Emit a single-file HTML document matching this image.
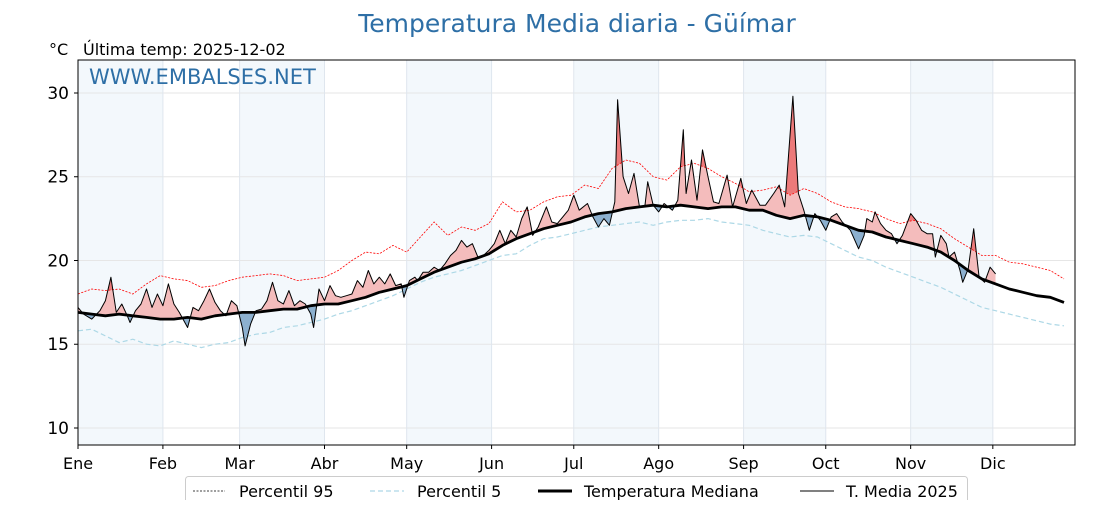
<!DOCTYPE html>
<html><head><meta charset="utf-8"><style>
body{margin:0;background:#fff;font-family:"Liberation Sans","DejaVu Sans",sans-serif;}
svg text{font-family:"DejaVu Sans","Liberation Sans",sans-serif;}
</style></head><body>
<svg id="chart" width="1120" height="500" xmlns="http://www.w3.org/2000/svg">
<text x="577" y="32" text-anchor="middle" font-size="25" fill="#2e6fa6">Temperatura Media diaria - Güímar</text>
<text x="49" y="55" font-size="16" fill="#000">°C</text>
<text x="83" y="55" font-size="16" fill="#000">Última temp: 2025-12-02</text>
<g id="bands"></g><g id="grid"></g><g id="fills"></g><g id="lines"></g>
<text x="89" y="84" font-size="21" fill="#2e6fa6">WWW.EMBALSES.NET</text>
<rect x="78" y="60" width="997" height="385" fill="none" stroke="#000" stroke-width="1"/>
<g id="axes"></g>
<g>
<rect x="185.5" y="476.5" width="782" height="30" rx="3" fill="#fff" stroke="#ccc"/>
<line x1="193" y1="491" x2="225" y2="491" stroke="#000" stroke-width="0.8" stroke-dasharray="2,1.5"/>
<text x="239" y="497" font-size="16">Percentil 95</text>
<line x1="370" y1="491" x2="404" y2="491" stroke="#add8e6" stroke-width="1.2" stroke-dasharray="5,3"/>
<text x="417" y="497" font-size="16">Percentil 5</text>
<line x1="538" y1="491" x2="572" y2="491" stroke="#000" stroke-width="3"/>
<text x="584" y="497" font-size="16">Temperatura Mediana</text>
<line x1="800" y1="491" x2="834" y2="491" stroke="#000" stroke-width="1"/>
<text x="846" y="497" font-size="16">T. Media 2025</text>
</g>
</svg>
<script>
const statDays=[0,5,10,15,20,25,30,35,40,45,50,55,60,65,70,75,80,85,90,95,100,105,110,115,120,125,130,135,140,145,150,155,160,165,170,175,180,185,190,195,200,205,210,215,220,225,230,235,240,245,250,255,260,265,270,275,280,285,290,295,300,305,310,315,320,325,330,335,340,345,350,355,360];
const median=[16.9,16.8,16.7,16.8,16.7,16.6,16.5,16.5,16.6,16.5,16.7,16.8,16.9,16.9,17.0,17.1,17.1,17.3,17.4,17.4,17.6,17.8,18.1,18.3,18.5,18.9,19.3,19.6,19.9,20.1,20.4,20.9,21.3,21.6,21.9,22.1,22.3,22.6,22.8,22.9,23.1,23.2,23.3,23.2,23.3,23.2,23.1,23.2,23.2,23.0,23.0,22.7,22.5,22.7,22.6,22.4,22.1,21.8,21.7,21.4,21.2,21.0,20.8,20.5,20.0,19.4,18.9,18.6,18.3,18.1,17.9,17.8,17.5];
const p95=[18.0,18.3,18.2,18.3,18.0,18.6,19.1,18.9,18.8,18.4,18.5,18.8,19.0,19.1,19.2,19.1,18.8,18.9,19.0,19.4,20.0,20.5,20.4,20.9,20.5,21.4,22.3,21.5,22.0,21.8,22.2,23.5,22.9,23.0,23.5,23.8,23.9,24.5,24.3,25.5,26.0,25.8,25.0,24.8,25.6,25.8,25.5,25.0,24.6,24.1,24.2,24.4,23.9,24.3,24.0,23.5,23.2,23.1,22.9,22.5,22.2,22.4,22.2,21.9,21.3,20.8,20.3,20.3,19.9,19.8,19.6,19.4,18.9];
const p5=[15.8,15.9,15.5,15.1,15.3,15.0,14.9,15.2,15.0,14.8,15.0,15.1,15.4,15.6,15.7,16.0,16.1,16.3,16.5,16.8,17.0,17.3,17.6,17.9,18.3,18.7,19.0,19.2,19.4,19.7,20.0,20.3,20.4,20.9,21.3,21.4,21.6,21.8,22.0,22.1,22.2,22.3,22.1,22.3,22.4,22.4,22.5,22.3,22.2,22.1,21.8,21.6,21.4,21.5,21.4,21.0,20.6,20.2,20.0,19.6,19.3,19.0,18.7,18.4,18.0,17.6,17.2,17.0,16.8,16.6,16.4,16.2,16.1];
const days2025=[0,2,5,8,10,12,14,16,18,19,21,23,25,27,29,31,33,35,37,40,42,44,46,48,50,52,54,56,58,60,61,63,65,67,69,71,73,75,77,79,81,83,85,86,88,90,92,94,96,98,100,102,104,106,108,110,112,114,116,118,119,121,123,124,126,128,130,132,134,136,138,140,142,144,146,148,150,152,154,156,158,160,162,164,166,168,171,173,175,177,179,181,183,186,188,190,192,194,196,197,199,201,203,205,207,208,210,212,214,217,219,221,222,224,226,228,230,232,234,237,239,242,244,246,249,251,254,256,258,261,263,265,267,269,271,273,275,277,279,282,285,287,288,290,291,293,295,297,299,301,304,306,308,310,312,313,315,317,318,320,322,323,325,327,329,331,333,335];
const temp2025=[17.2,16.8,16.5,17.0,17.6,19.0,16.9,17.4,16.7,16.3,17.0,17.4,18.3,17.2,18.0,17.3,18.6,17.4,16.9,16.0,17.2,17.0,17.6,18.3,17.5,17.0,16.7,17.6,17.3,16.0,14.9,16.2,17.0,17.1,17.6,18.7,17.6,17.4,18.2,17.3,17.6,17.4,16.8,16.0,18.3,17.6,18.5,17.9,17.8,17.9,18.0,18.8,18.4,19.4,18.6,19.0,18.6,19.2,18.5,18.6,17.8,18.8,19.0,18.8,19.3,19.3,19.6,19.4,19.8,20.3,20.6,21.2,20.8,21.0,20.2,20.3,20.6,21.0,21.8,21.0,21.8,21.4,22.5,23.2,21.5,22.0,23.2,22.3,22.2,22.6,23.0,23.9,23.0,23.4,22.6,22.0,22.5,22.1,23.5,29.6,25.0,24.0,25.2,23.2,23.3,24.7,23.3,22.9,23.4,23.0,23.6,27.8,24.0,26.0,23.6,26.6,25.0,23.5,23.4,25.1,23.2,24.9,23.4,24.2,23.3,23.3,24.0,24.5,23.2,29.8,24.0,23.0,21.8,22.8,22.4,21.8,22.6,22.8,22.3,21.8,20.7,21.5,22.5,22.3,22.9,22.2,21.8,21.6,21.0,21.5,22.8,22.4,21.8,21.6,21.6,20.2,21.5,21.0,20.2,20.5,19.4,18.7,19.5,21.9,19.0,18.7,19.6,19.2];
const yTicks=[10,15,20,25,30];
const monthNames=["Ene","Feb","Mar","Abr","May","Jun","Jul","Ago","Sep","Oct","Nov","Dic"];
const monthStarts=[0,31,59,90,120,151,181,212,243,273,304,334];

const NS="http://www.w3.org/2000/svg";
const X0=78,X1=1075,Y0=445,Y1=60,DMAX=364,VMIN=8.985,VMAX=31.97;
const xs=d=>X0+(d/DMAX)*(X1-X0);
const ys=v=>Y0-(v-VMIN)/(VMAX-VMIN)*(Y0-Y1);
function mk(tag,attrs,parent){const e=document.createElementNS(NS,tag);for(const k in attrs)e.setAttribute(k,attrs[k]);parent.appendChild(e);return e;}
function interp(dd,vv,d){for(let i=0;i<dd.length-1;i++){if(d>=dd[i]&&d<=dd[i+1]){const t=(d-dd[i])/(dd[i+1]-dd[i]);return vv[i]+t*(vv[i+1]-vv[i]);}}return vv[vv.length-1];}
const g=id=>document.getElementById(id);
const svg=g('chart');

for(let m=0;m<12;m+=2){const end=m+1<12?monthStarts[m+1]:DMAX;
const r=mk('rect',{x:xs(monthStarts[m]),y:Y1,width:xs(end)-xs(monthStarts[m]),height:Y0-Y1,fill:'#f3f8fc'},g('bands'));

}
yTicks.forEach(v=>{const l=mk('line',{x1:X0,x2:X1,y1:ys(v),y2:ys(v),stroke:'#e6e6e6','stroke-width':1},g('grid'));

});
monthStarts.forEach(d=>{const l=mk('line',{x1:xs(d),x2:xs(d),y1:Y1,y2:Y0,stroke:'#dfe6ee','stroke-width':1},g('grid'));

});

const defs=mk('defs',{},svg);
const medAt=d=>interp(statDays,median,d);
const p95At=d=>interp(statDays,p95,d);
const dense=[];for(let d=0;d<=335;d+=0.5)dense.push(d);
const t25=d=>interp(days2025,temp2025,d);
function pathOf(arr){return arr.map((p,i)=>(i?'L':'M')+p[0].toFixed(1)+','+p[1].toFixed(1)).join('');}
const medPts=dense.map(d=>[xs(d),ys(medAt(d))]);
const p95Pts=dense.map(d=>[xs(d),ys(p95At(d))]);
const tPts=dense.map(d=>[xs(d),ys(t25(d))]);
const cAbove=mk('clipPath',{id:'above'},defs);mk('path',{d:pathOf(medPts)+`L${xs(335)},${Y1}L${X0},${Y1}Z`},cAbove);
const cBelow=mk('clipPath',{id:'below'},defs);mk('path',{d:pathOf(medPts)+`L${xs(335)},${Y0}L${X0},${Y0}Z`},cBelow);
const cAbove95=mk('clipPath',{id:'above95'},defs);mk('path',{d:pathOf(p95Pts)+`L${xs(335)},${Y1}L${X0},${Y1}Z`},cAbove95);
const area=pathOf(tPts)+pathOf(medPts.slice().reverse()).replace('M','L')+'Z';
const area95=pathOf(tPts)+pathOf(p95Pts.slice().reverse()).replace('M','L')+'Z';
const fr=mk('path',{d:area,fill:'#f4bcbc','clip-path':'url(#above)'},g('fills'));


const fr2=mk('path',{d:area95,fill:'#ec7a7a','clip-path':'url(#above95)'},g('fills'));


const fb=mk('path',{d:area,fill:'#8cb0cf','clip-path':'url(#below)'},g('fills'));



const pl=(dd,vv)=>dd.map((d,i)=>xs(d).toFixed(1)+','+ys(vv[i]).toFixed(1)).join(' ');
let e;
e=mk('polyline',{points:pl(statDays,p95),fill:'none',stroke:'#ff0000','stroke-width':0.8,'stroke-dasharray':'2,1.5'},g('lines'));


e=mk('polyline',{points:pl(statDays,p5),fill:'none',stroke:'#add8e6','stroke-width':1.2,'stroke-dasharray':'5,3'},g('lines'));


e=mk('polyline',{points:pl(statDays,median),fill:'none',stroke:'#000','stroke-width':2.8,'stroke-linejoin':'round'},g('lines'));


e=mk('polyline',{points:pl(days2025,temp2025),fill:'none',stroke:'#000','stroke-width':1,'stroke-linejoin':'round'},g('lines'));



yTicks.forEach(v=>{mk('line',{x1:X0-4,x2:X0,y1:ys(v),y2:ys(v),stroke:'#000'},g('axes'));
const t=mk('text',{x:X0-9,y:ys(v)+6,'text-anchor':'end','font-size':17},g('axes'));t.textContent=v;

});
monthStarts.forEach((d,i)=>{mk('line',{x1:xs(d),x2:xs(d),y1:Y0,y2:Y0+4,stroke:'#000'},g('axes'));
const t=mk('text',{x:xs(d),y:469,'text-anchor':'middle','font-size':16},g('axes'));t.textContent=monthNames[i];

});
</script>
</body></html>
